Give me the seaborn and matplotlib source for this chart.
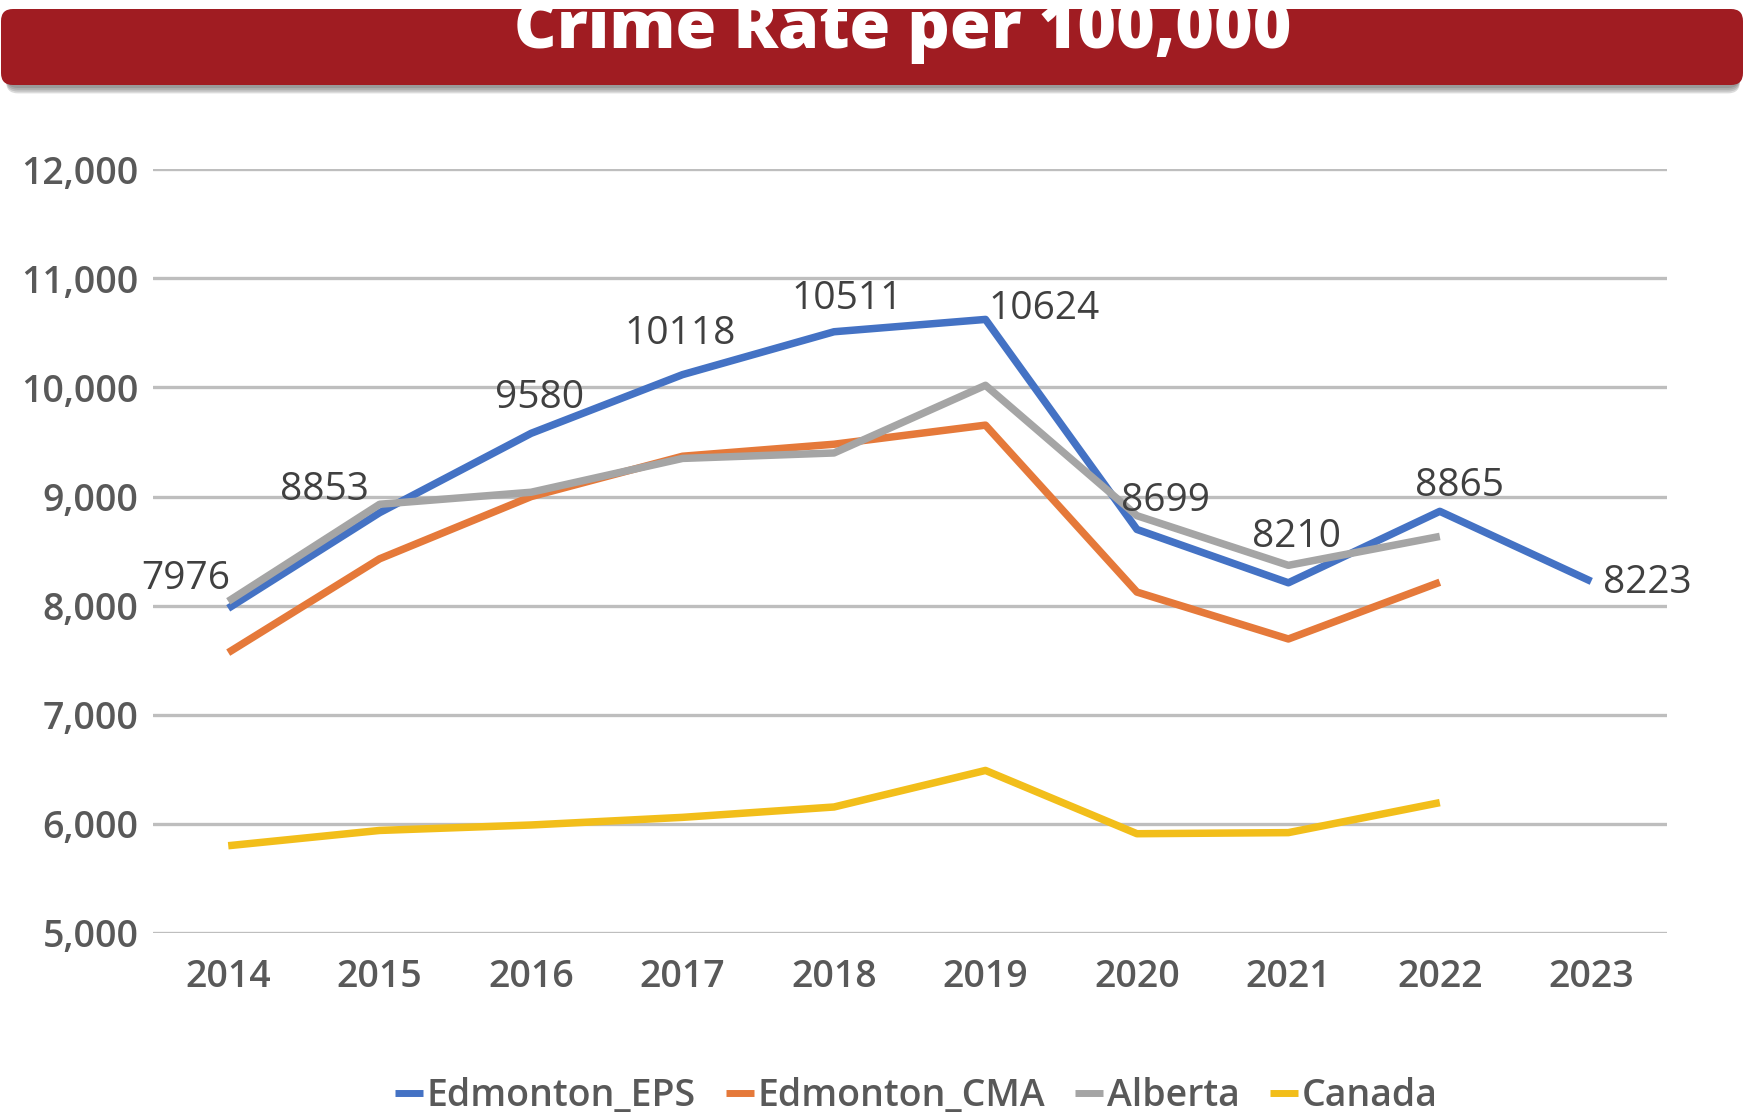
import numpy as np
import pandas as pd
import matplotlib
matplotlib.use("Agg")
import matplotlib.pyplot as plt
from matplotlib.patches import FancyBboxPatch
from matplotlib.lines import Line2D
import seaborn as sns

# ---- data -------------------------------------------------------------
years = [2014, 2015, 2016, 2017, 2018, 2019, 2020, 2021, 2022, 2023]
edmonton_eps = [7976, 8853, 9580, 10118, 10511, 10624, 8699, 8210, 8865, 8223]
edmonton_cma = [7570, 8430, 9000, 9370, 9480, 9655, 8125, 7695, 8215, np.nan]
alberta = [8040, 8930, 9040, 9350, 9400, 10020, 8825, 8370, 8635, np.nan]
canada = [5800, 5940, 5990, 6060, 6155, 6490, 5910, 5920, 6195, np.nan]

series_names = ["Edmonton_EPS", "Edmonton_CMA", "Alberta", "Canada"]
series_values = [edmonton_eps, edmonton_cma, alberta, canada]
series_colors = ["#4472C4", "#E5793A", "#A5A5A5", "#F2BE1A"]

y_ticks = [5000, 6000, 7000, 8000, 9000, 10000, 11000, 12000]
title = "Crime Rate per 100,000"

# label placement around each EPS point (pixels: dx, dy)
eps_label_offsets = [(-42, 29), (-55, 23), (8, 35), (-2, 41), (13, 33),
                     (59, 10), (29, 28), (8, 46), (20, 25), (56, -2)]

df = pd.concat(
    [pd.DataFrame({"Year": years, "Rate": vals, "Series": name})
     for name, vals in zip(series_names, series_values)],
    ignore_index=True,
).dropna()

# ---- figure -----------------------------------------------------------
sns.set_theme(style="white")
plt.rcParams["font.family"] = ["Open Sans", "DejaVu Sans"]

W, H = 1746, 1113
fig = plt.figure(figsize=(W / 100, H / 100), dpi=100)
fig.patch.set_facecolor("white")

left, right, top, bottom = 152.5, 1667, 169.3, 933
ax = fig.add_axes([left / W, (H - bottom) / H, (right - left) / W, (bottom - top) / H])

for y in y_ticks:
    ax.axhline(y, color="#BEBEBE", lw=2.4, zorder=0)

sns.lineplot(data=df, x="Year", y="Rate", hue="Series", hue_order=series_names,
             palette=series_colors, linewidth=5.4, legend=False, ax=ax,
             solid_capstyle="butt", zorder=3)

ax.set_xlim(2013.5, 2023.5)
ax.set_ylim(5000, 12000)
ax.set_xticks(years)
ax.set_yticks(y_ticks)
ax.set_xticklabels([str(y) for y in years], fontweight="semibold")
ax.set_yticklabels([f"{v:,}" for v in y_ticks], fontweight="semibold")
ax.set_xlabel("")
ax.set_ylabel("")
for s in ax.spines.values():
    s.set_visible(False)
ax.tick_params(axis="both", length=0, labelsize=27, labelcolor="#595959")
ax.tick_params(axis="y", pad=10)
ax.tick_params(axis="x", pad=18)
ax.grid(False)

for yr, val, (dx, dy) in zip(years, edmonton_eps, eps_label_offsets):
    ax.annotate(str(val), xy=(yr, val), xytext=(dx, dy), textcoords="offset pixels",
                ha="center", va="center", fontsize=28, color="#404040", zorder=5)

# legend along the bottom
handles = [Line2D([0], [0], color=c, lw=5, solid_capstyle="butt") for c in series_colors]
fig.legend(handles, series_names, loc="center", bbox_to_anchor=(916 / W, (H - 1096) / H),
           ncol=4, frameon=False, prop={"size": 27, "weight": "semibold"},
           labelcolor="#595959", handlelength=0.75, handletextpad=0.1,
           columnspacing=0.8, borderpad=0.1)

# title banner
ov = fig.add_axes([0, 0, 1, 1], zorder=10)
ov.set_xlim(0, W)
ov.set_ylim(H, 0)
ov.axis("off")
ov.patch.set_alpha(0)
for k, a in enumerate([0.10, 0.10, 0.12, 0.14]):
    ov.add_patch(FancyBboxPatch((6, 12 + k * 1.8), W - 12, 76,
                                boxstyle="round,pad=0,rounding_size=12",
                                fc="#000000", ec="none", alpha=a))
ov.add_patch(FancyBboxPatch((1, 9), W - 4, 76, boxstyle="round,pad=0,rounding_size=12",
                            fc="#A01C22", ec="none"))
ov.text(903, 48, title, ha="center", va="baseline", fontsize=47.5,
        fontweight="heavy", color="white")

fig.savefig("out.png", dpi=100)
